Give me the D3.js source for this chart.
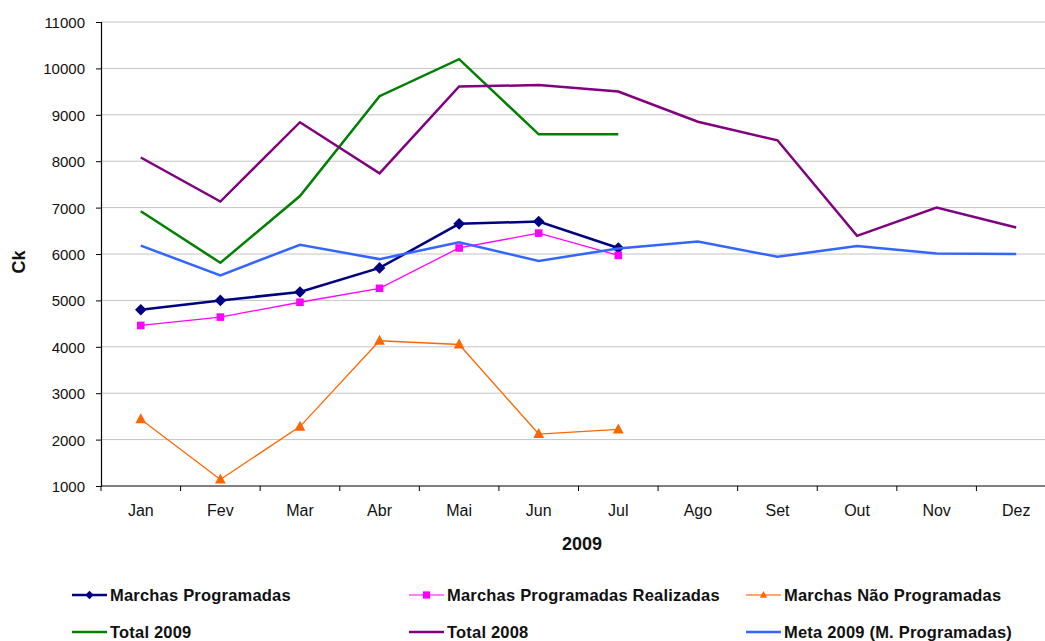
<!DOCTYPE html>
<html>
<head>
<meta charset="utf-8">
<script src="https://cdn.jsdelivr.net/npm/d3@7"></script>
<style>
  html, body { margin: 0; padding: 0; background: #fff; }
  svg { display: block; font-family: "Liberation Sans", Arial, sans-serif; }
</style>
</head>
<body>
<svg id="chart" width="1045" height="641"></svg>
<script>
// Months of 2009
const months = ["Jan", "Fev", "Mar", "Abr", "Mai", "Jun", "Jul", "Ago", "Set", "Out", "Nov", "Dez"];
const yTicks = [1000, 2000, 3000, 4000, 5000, 6000, 7000, 8000, 9000, 10000, 11000];

// Series values (Ck)
const marchasProgramadas = [4800, 5000, 5180, 5700, 6650, 6700, 6130];
const marchasRealizadas = [4460, 4640, 4960, 5260, 6130, 6450, 5970];
const marchasNaoProgramadas = [2440, 1140, 2280, 4130, 4050, 2120, 2220];
const total2009 = [6920, 5810, 7250, 9400, 10200, 8580, 8580];
const total2008 = [8080, 7130, 8840, 7740, 9610, 9640, 9500, 8850, 8450, 6390, 7000, 6570];
const meta2009 = [6180, 5540, 6200, 5890, 6250, 5850, 6120, 6270, 5940, 6170, 6010, 6000];

const series = [
  { name: "Marchas Programadas", values: marchasProgramadas, color: "#000080", width: 2.5, marker: "diamond" },
  { name: "Marchas Programadas Realizadas", values: marchasRealizadas, color: "#ff00ff", width: 1.3, marker: "square" },
  { name: "Marchas Não Programadas", values: marchasNaoProgramadas, color: "#ff6600", width: 1.3, marker: "triangle" },
  { name: "Total 2009", values: total2009, color: "#008000", width: 2.5, marker: null },
  { name: "Total 2008", values: total2008, color: "#800080", width: 2.5, marker: null },
  { name: "Meta 2009 (M. Programadas)", values: meta2009, color: "#3366ff", width: 2.5, marker: null }
];

const svg = d3.select("#chart");
const plotLeft = 101, plotRight = 1056, plotTop = 22, plotBottom = 486;
const FONT = "Liberation Sans, Arial, sans-serif";

const x = d3.scaleBand().domain(months).range([plotLeft, plotRight]);
const y = d3.scaleLinear().domain([1000, 11000]).range([plotBottom, plotTop]);

// Gridlines
svg.append("g")
  .selectAll("line")
  .data(yTicks.slice(1))
  .join("line")
  .attr("x1", plotLeft).attr("x2", plotRight)
  .attr("y1", d => y(d)).attr("y2", d => y(d))
  .attr("stroke", "#c4c4c4").attr("stroke-width", 1);

// Y axis
const yAxis = svg.append("g")
  .attr("transform", `translate(${plotLeft},0)`)
  .call(d3.axisLeft(y).tickValues(yTicks).tickFormat(d3.format("d")).tickSize(5).tickPadding(11));
yAxis.attr("font-family", FONT).attr("font-size", 15);
yAxis.select(".domain").attr("stroke", "#000").attr("stroke-width", 1.2);
yAxis.selectAll(".tick line").attr("stroke", "#000");
yAxis.selectAll("text").attr("fill", "#111").attr("dy", "0.36em");

// X axis with tick marks between months
const xAxis = svg.append("g")
  .attr("transform", `translate(0,${plotBottom})`)
  .call(d3.axisBottom(x).tickSize(0).tickPadding(19));
xAxis.attr("font-family", FONT).attr("font-size", 16);
xAxis.select(".domain").attr("stroke", "#000").attr("stroke-width", 1.2).attr("d", `M${plotLeft},0H${plotRight}`);
xAxis.selectAll("text").attr("fill", "#111");
svg.append("g")
  .selectAll("line")
  .data(months)
  .join("line")
  .attr("x1", d => x(d)).attr("x2", d => x(d))
  .attr("y1", plotBottom).attr("y2", plotBottom + 5)
  .attr("stroke", "#000");

// Axis titles
svg.append("text")
  .attr("x", 582).attr("y", 550)
  .attr("text-anchor", "middle")
  .attr("font-family", FONT)
  .attr("font-size", 18).attr("font-weight", "bold").attr("fill", "#111")
  .text("2009");
svg.append("text")
  .attr("transform", `translate(25,262) rotate(-90)`)
  .attr("text-anchor", "middle")
  .attr("font-family", FONT)
  .attr("font-size", 18).attr("font-weight", "bold").attr("fill", "#111")
  .text("Ck");

const cx = i => x(months[i]) + x.bandwidth() / 2;
const line = d3.line().x((d, i) => cx(i)).y(d => y(d));

function drawMarker(g, type, px, py, size, color) {
  if (type === "diamond") {
    g.append("path")
      .attr("d", `M${px},${py - size}L${px + size},${py}L${px},${py + size}L${px - size},${py}Z`)
      .attr("fill", color);
  } else if (type === "square") {
    g.append("rect")
      .attr("x", px - size).attr("y", py - size)
      .attr("width", size * 2).attr("height", size * 2)
      .attr("fill", color);
  } else if (type === "triangle") {
    g.append("path")
      .attr("d", `M${px},${py - size * 1.1}L${px + size},${py + size * 0.75}L${px - size},${py + size * 0.75}Z`)
      .attr("fill", color);
  }
}

const markerSize = { diamond: 5.8, square: 3.8, triangle: 5.4 };

// Series lines and markers
series.forEach(s => {
  const g = svg.append("g");
  g.append("path")
    .datum(s.values)
    .attr("d", line)
    .attr("fill", "none")
    .attr("stroke", s.color)
    .attr("stroke-width", s.width)
    .attr("stroke-linejoin", "miter");
  if (s.marker) {
    s.values.forEach((v, i) => drawMarker(g, s.marker, cx(i), y(v), markerSize[s.marker], s.color));
  }
});

// Legend
const legendCols = [72, 409, 746];
const legendRows = [595, 632];
const legendLineColor = { "#ff00ff": "#ff55ff", "#ff6600": "#ff8844" };
series.forEach((s, i) => {
  const lx = legendCols[i % 3];
  const ly = legendRows[Math.floor(i / 3)];
  const g = svg.append("g");
  g.append("line")
    .attr("x1", lx).attr("x2", lx + 35)
    .attr("y1", ly).attr("y2", ly)
    .attr("stroke", legendLineColor[s.color] || s.color)
    .attr("stroke-width", s.width);
  if (s.marker) {
    drawMarker(g, s.marker, lx + 17.5, ly, s.marker === "diamond" ? 4.2 : 3.6, s.color);
  }
  g.append("text")
    .attr("x", lx + 38).attr("y", ly + 6)
    .attr("font-family", FONT)
    .attr("font-size", 16.5).attr("font-weight", "bold").attr("fill", "#111")
    .attr("letter-spacing", 0.2)
    .text(s.name);
});
</script>
</body>
</html>
